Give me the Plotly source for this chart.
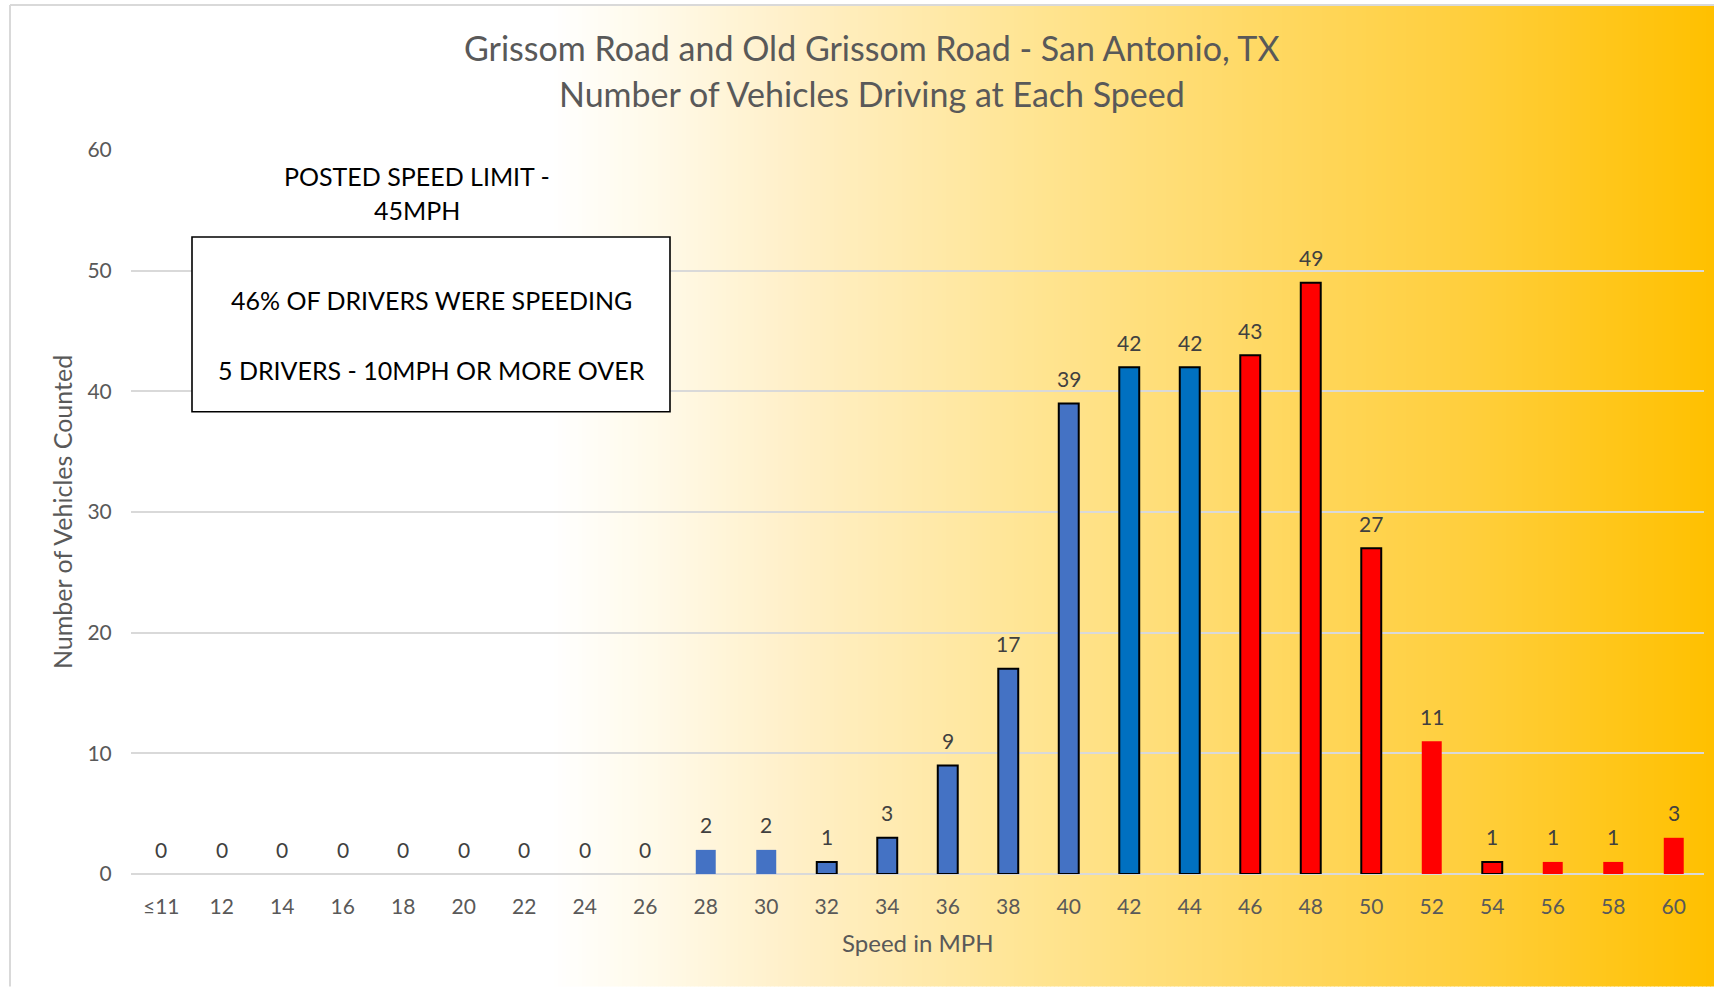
import plotly.graph_objects as go

# ---------------- data ----------------
speed_labels = ["≤11", "12", "14", "16", "18", "20", "22", "24", "26", "28", "30", "32", "34",
                "36", "38", "40", "42", "44", "46", "48", "50", "52", "54", "56", "58", "60"]
vehicle_counts = [0, 0, 0, 0, 0, 0, 0, 0, 0, 2, 2, 1, 3, 9, 17, 39, 42, 42, 43, 49, 27, 11, 1, 1, 1, 3]
bar_colors = (["#4472C4"] * 16) + (["#0070C0"] * 2) + (["#FF0000"] * 8)
outlined = ["32", "34", "36", "38", "40", "42", "44", "46", "48", "50", "54"]

title_line1 = "Grissom Road and Old Grissom Road - San Antonio, TX"
title_line2 = "Number of Vehicles Driving at Each Speed"
y_title = "Number of Vehicles Counted"
x_title = "Speed in MPH"
note_lines = ["POSTED SPEED LIMIT -", "45MPH"]
box_lines = ["46% OF DRIVERS WERE SPEEDING", "5 DRIVERS - 10MPH OR MORE OVER"]

# ---------------- layout geometry (pixels) ----------------
W, H = 1714, 987
L, R, T, B = 131, 1704, 150, 874.5
PW, PH = R - L, B - T


def xp(px):
    return (px - L) / PW


def yp(py):
    return (B - py) / PH


FONT = "Lato"
GREY = "#595959"

line_widths = [2 if s in outlined else 0 for s in speed_labels]

fig = go.Figure()
fig.add_trace(go.Bar(
    x=speed_labels,
    y=vehicle_counts,
    marker=dict(color=bar_colors, line=dict(color="#000000", width=line_widths)),
    hoverinfo="x+y",
    showlegend=False,
))

annotations = []
# data labels (x given as category index)
for i, v in enumerate(vehicle_counts):
    annotations.append(dict(x=i, y=v, xref="x", yref="y", text=str(v), showarrow=False,
                            yanchor="middle", yshift=25,
                            font=dict(family=FONT, size=21, color="#404040")))

# titles
annotations.append(dict(x=xp(872), y=yp(47), xref="paper", yref="paper", text=title_line1,
                        showarrow=False, xanchor="center", yanchor="middle",
                        font=dict(family=FONT, size=34, color=GREY)))
annotations.append(dict(x=xp(872), y=yp(93), xref="paper", yref="paper", text=title_line2,
                        showarrow=False, xanchor="center", yanchor="middle",
                        font=dict(family=FONT, size=34, color=GREY)))
annotations.append(dict(x=xp(62), y=0.5, xref="paper", yref="paper", text=y_title, textangle=-90,
                        showarrow=False, xanchor="center", yanchor="middle",
                        font=dict(family=FONT, size=25, color=GREY)))
annotations.append(dict(x=xp(917), y=yp(943), xref="paper", yref="paper", text=x_title,
                        showarrow=False, xanchor="center", yanchor="middle",
                        font=dict(family=FONT, size=24, color=GREY)))
# note text
for txt, py in zip(note_lines, [176, 210]):
    annotations.append(dict(x=xp(417), y=yp(py), xref="paper", yref="paper", text=txt,
                            showarrow=False, xanchor="center", yanchor="middle",
                            font=dict(family=FONT, size=25, color="#000000")))
for txt, py in zip(box_lines, [300, 370]):
    annotations.append(dict(x=xp(431), y=yp(py), xref="paper", yref="paper", text=txt,
                            showarrow=False, xanchor="center", yanchor="middle",
                            font=dict(family=FONT, size=25, color="#000000")))

# ---------------- background gradient ----------------
stops = [(0, (255, 255, 255)), (550, (255, 255, 255)), (650, (255, 250, 234)),
         (800, (255, 239, 198)), (1025, (255, 229, 148)), (1250, (255, 217, 102)),
         (1480, (255, 206, 58)), (1714, (255, 192, 0))]


def grad(px):
    for (a, ca), (b, cb) in zip(stops[:-1], stops[1:]):
        if a <= px <= b:
            t = (px - a) / (b - a) if b > a else 0
            return "rgb(%d,%d,%d)" % tuple(round(ca[i] + (cb[i] - ca[i]) * t) for i in range(3))
    return "rgb(255,192,0)"


shapes = []
step = 4
x0 = 10
while x0 < W:
    x1 = min(x0 + step, W)
    shapes.append(dict(type="rect", xref="paper", yref="paper", x0=xp(x0), x1=xp(x1 + 0.8),
                       y0=yp(H), y1=yp(5), fillcolor=grad((x0 + x1) / 2), line=dict(width=0),
                       layer="below"))
    x0 = x1
# chart border lines
shapes.append(dict(type="line", xref="paper", yref="paper", x0=xp(10), x1=xp(10), y0=yp(H), y1=yp(5),
                   line=dict(color="#D9D9D9", width=2), layer="below"))
shapes.append(dict(type="line", xref="paper", yref="paper", x0=xp(10), x1=xp(W), y0=yp(5), y1=yp(5),
                   line=dict(color="#D9D9D9", width=2), layer="below"))
# text box
shapes.append(dict(type="rect", xref="paper", yref="paper", x0=xp(192), x1=xp(670), y0=yp(412), y1=yp(237),
                   fillcolor="#FFFFFF", line=dict(color="#000000", width=1.6), layer="above"))

fig.update_layout(
    width=W, height=H,
    margin=dict(l=L, r=W - R, t=T, b=H - B, pad=0),
    paper_bgcolor="#FFFFFF",
    plot_bgcolor="rgba(0,0,0,0)",
    bargap=0.67,
    showlegend=False,
    shapes=shapes,
    annotations=annotations,
    xaxis=dict(type="category", range=[-0.5, len(speed_labels) - 0.5], autorange=False,
               showgrid=False, showline=False, zeroline=False, tickangle=0,
               ticks="outside", ticklen=14, tickcolor="rgba(0,0,0,0)",
               tickfont=dict(family=FONT, size=21, color=GREY), fixedrange=True),
    yaxis=dict(range=[0, 60], autorange=False, dtick=10, showgrid=True, gridcolor="#D9D9D9", gridwidth=2,
               zeroline=True, zerolinecolor="#D9D9D9", zerolinewidth=2, showline=False,
               ticks="outside", ticklen=14, tickcolor="rgba(0,0,0,0)",
               tickfont=dict(family=FONT, size=21, color=GREY), fixedrange=True),
)

fig.write_html("out.html", config={"displayModeBar": False},
               post_script="document.body.style.margin='0';")
